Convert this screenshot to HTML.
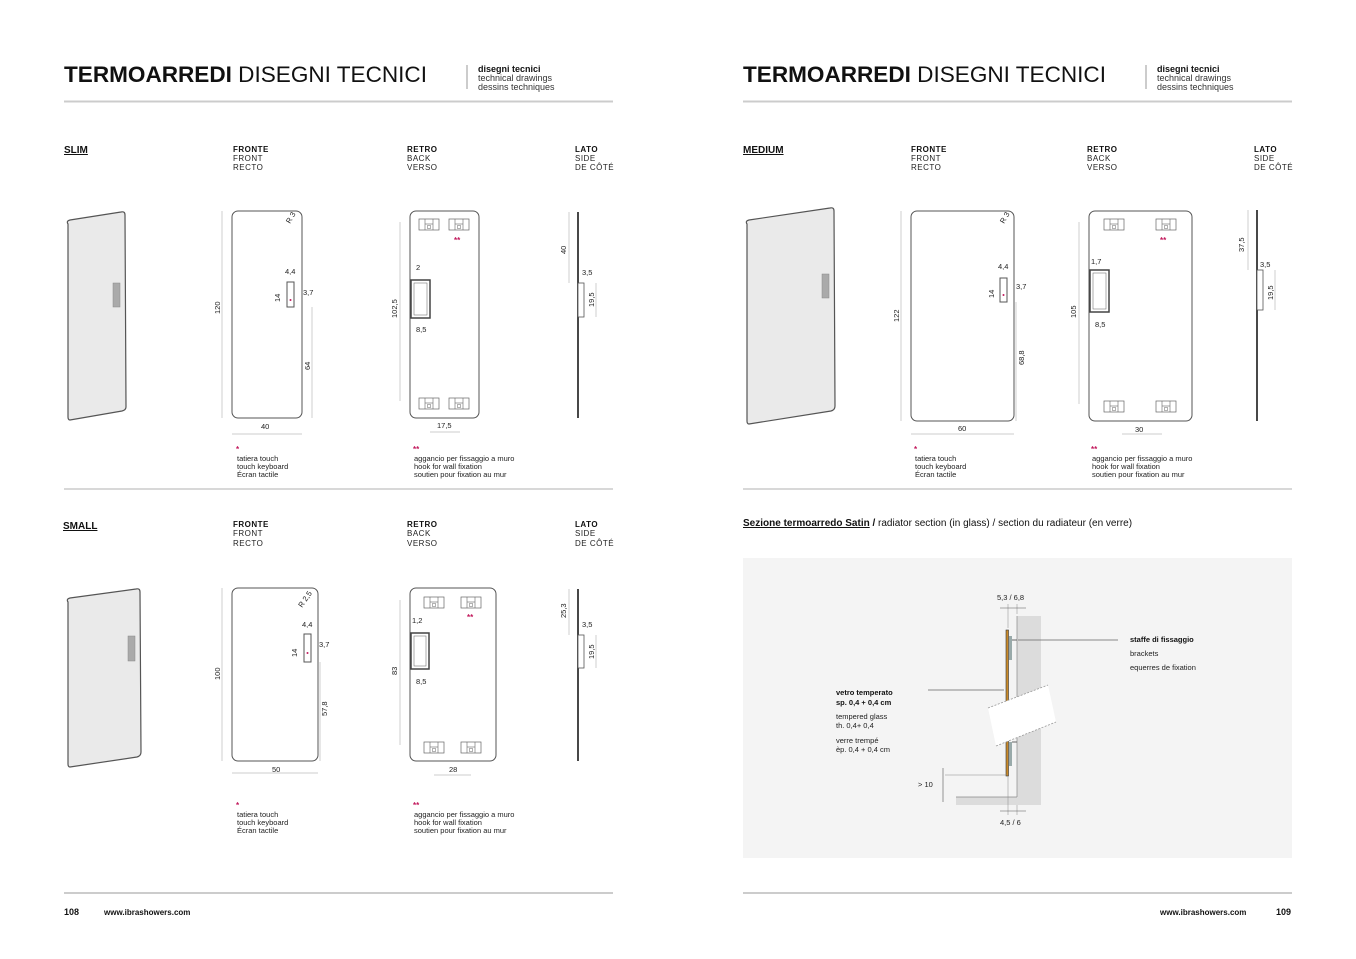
<!DOCTYPE html>
<html><head><meta charset="utf-8"><style>
html,body{margin:0;padding:0;background:#fff;}
svg{display:block;font-family:"Liberation Sans",sans-serif;}
.t{font-size:7.5px;fill:#222}
.d{font-size:7.5px;fill:#222}
.h{font-size:8px;fill:#222;letter-spacing:.5px}
.hb{font-size:8px;font-weight:bold;fill:#111;letter-spacing:.5px}
.ln{stroke:#bbb;stroke-width:.7;fill:none}
.ob{stroke:#555;stroke-width:1;fill:#fff}
.pk{fill:#c2185b;font-size:8px;font-weight:bold}
</style></head><body>
<svg width="1356" height="959" viewBox="0 0 1356 959" xmlns="http://www.w3.org/2000/svg">
<defs>
<g id="br"><rect x="0" y="0" width="20" height="11" fill="#fff" stroke="#666" stroke-width=".7"/><line x1="6" y1="0" x2="6" y2="11" stroke="#666" stroke-width=".6"/><line x1="14" y1="0" x2="14" y2="11" stroke="#666" stroke-width=".6"/><line x1="6" y1="5" x2="14" y2="5" stroke="#666" stroke-width=".6"/><rect x="8.5" y="6.5" width="3" height="3" fill="none" stroke="#666" stroke-width=".5"/></g>
</defs>

<!-- LEFT HEADER -->
<text x="64" y="82" font-size="22" fill="#111" textLength="363" lengthAdjust="spacingAndGlyphs"><tspan font-weight="bold">TERMOARREDI</tspan> DISEGNI TECNICI</text>
<line x1="467" y1="65" x2="467" y2="89" stroke="#999" stroke-width="1"/>
<text x="478" y="72" font-size="9" font-weight="bold" fill="#111">disegni tecnici</text>
<text x="478" y="81" font-size="9" fill="#333">technical drawings</text>
<text x="478" y="90" font-size="9" fill="#333">dessins techniques</text>
<line x1="64" y1="101.5" x2="613" y2="101.5" stroke="#ccc" stroke-width="2"/>

<!-- RIGHT HEADER -->
<text x="743" y="82" font-size="22" fill="#111" textLength="363" lengthAdjust="spacingAndGlyphs"><tspan font-weight="bold">TERMOARREDI</tspan> DISEGNI TECNICI</text>
<line x1="1146" y1="65" x2="1146" y2="89" stroke="#999" stroke-width="1"/>
<text x="1157" y="72" font-size="9" font-weight="bold" fill="#111">disegni tecnici</text>
<text x="1157" y="81" font-size="9" fill="#333">technical drawings</text>
<text x="1157" y="90" font-size="9" fill="#333">dessins techniques</text>
<line x1="743" y1="101.5" x2="1292" y2="101.5" stroke="#ccc" stroke-width="2"/>

<!-- SLIM -->
<text x="64" y="153" font-size="10" font-weight="bold" fill="#111" text-decoration="underline">SLIM</text>
<text x="233" y="152" class="hb">FRONTE</text><text x="233" y="161" class="h">FRONT</text><text x="233" y="170" class="h">RECTO</text>
<text x="407" y="152" class="hb">RETRO</text><text x="407" y="161" class="h">BACK</text><text x="407" y="170" class="h">VERSO</text>
<text x="575" y="152" class="hb">LATO</text><text x="575" y="161" class="h">SIDE</text><text x="575" y="170" class="h">DE CÔTÉ</text>

<path d="M68,224 Q66,221 70,220 L121,212 Q125,211 125,215 L126,407 Q126,410 122,411 L70,420 Q68,420 68,417 Z" fill="#eaeaea" stroke="#555" stroke-width="1.2"/>
<rect x="113" y="283" width="7" height="24" fill="#aaa" stroke="#888" stroke-width=".5"/>

<rect x="232" y="211" width="70" height="207" rx="6" class="ob"/>
<line x1="222" y1="211" x2="222" y2="418" class="ln"/>
<text transform="translate(220,314) rotate(-90)" class="d">120</text>
<line x1="232" y1="434" x2="302" y2="434" class="ln"/>
<text x="261" y="429" class="d">40</text>
<text transform="translate(290,224) rotate(-60)" class="d">R 3</text>
<rect x="287" y="282" width="7" height="25" class="ob" stroke-width=".8"/>
<circle cx="290.5" cy="300" r="1" fill="#c2185b"/>
<text x="285" y="274" class="d">4,4</text>
<text transform="translate(280,302) rotate(-90)" class="d">14</text>
<text x="303" y="295" class="d">3,7</text>
<line x1="312" y1="307" x2="312" y2="418" class="ln"/>
<text transform="translate(310,370) rotate(-90)" class="d">64</text>

<rect x="410" y="211" width="69" height="207" rx="6" class="ob"/>
<use href="#br" x="419" y="219"/><use href="#br" x="449" y="219"/>
<use href="#br" x="419" y="398"/><use href="#br" x="449" y="398"/>
<text x="454" y="243" class="pk">**</text>
<rect x="411" y="280" width="19" height="38" fill="#fff" stroke="#444" stroke-width="1.5"/>
<rect x="414" y="283" width="13" height="32" fill="none" stroke="#777" stroke-width=".6"/>
<text x="416" y="270" class="d">2</text>
<text x="416" y="332" class="d">8,5</text>
<line x1="400" y1="222" x2="400" y2="401" class="ln"/>
<text transform="translate(397,318) rotate(-90)" class="d">102,5</text>
<line x1="430" y1="432" x2="460" y2="432" class="ln"/>
<text x="437" y="428" class="d">17,5</text>

<line x1="578" y1="212" x2="578" y2="418" stroke="#333" stroke-width="1.8"/>
<rect x="578" y="283" width="6" height="34" fill="#fff" stroke="#555" stroke-width=".8"/>
<line x1="569" y1="212" x2="569" y2="283" class="ln"/>
<text transform="translate(566,254) rotate(-90)" class="d">40</text>
<text x="582" y="275" class="d">3,5</text>
<line x1="596" y1="283" x2="596" y2="317" class="ln"/>
<text transform="translate(594,307) rotate(-90)" class="d">19,5</text>

<text x="236" y="452" class="pk">*</text>
<text x="237" y="461" class="t">tatiera touch</text><text x="237" y="469" class="t">touch keyboard</text><text x="237" y="477" class="t">Écran tactile</text>
<text x="413" y="452" class="pk">**</text>
<text x="414" y="461" class="t">aggancio per fissaggio a muro</text><text x="414" y="469" class="t">hook for wall fixation</text><text x="414" y="477" class="t">soutien pour fixation au mur</text>
<line x1="64" y1="489" x2="613" y2="489" stroke="#ccc" stroke-width="1.5"/>

<!-- SMALL -->
<text x="63" y="529" font-size="10" font-weight="bold" fill="#111" text-decoration="underline">SMALL</text>
<text x="233" y="527" class="hb">FRONTE</text><text x="233" y="536" class="h">FRONT</text><text x="233" y="546" class="h">RECTO</text>
<text x="407" y="527" class="hb">RETRO</text><text x="407" y="536" class="h">BACK</text><text x="407" y="546" class="h">VERSO</text>
<text x="575" y="527" class="hb">LATO</text><text x="575" y="536" class="h">SIDE</text><text x="575" y="546" class="h">DE CÔTÉ</text>

<path d="M68,602 Q66,599 70,598 L136,589 Q140,588 140,592 L141,752 Q141,756 137,757 L70,767 Q68,767 68,764 Z" fill="#eaeaea" stroke="#555" stroke-width="1.2"/>
<rect x="128" y="636" width="7" height="25" fill="#aaa" stroke="#888" stroke-width=".5"/>

<rect x="232" y="588" width="86" height="173" rx="6" class="ob"/>
<line x1="222" y1="588" x2="222" y2="761" class="ln"/>
<text transform="translate(220,680) rotate(-90)" class="d">100</text>
<line x1="232" y1="773" x2="318" y2="773" class="ln"/>
<text x="272" y="772" class="d">50</text>
<text transform="translate(302,608) rotate(-55)" class="d">R 2,5</text>
<rect x="304" y="634" width="7" height="28" class="ob" stroke-width=".8"/>
<circle cx="307.5" cy="653" r="1" fill="#c2185b"/>
<text x="302" y="627" class="d">4,4</text>
<text transform="translate(297,657) rotate(-90)" class="d">14</text>
<text x="319" y="647" class="d">3,7</text>
<line x1="320" y1="662" x2="320" y2="761" class="ln"/>
<text transform="translate(327,716) rotate(-90)" class="d">57,8</text>

<rect x="410" y="588" width="86" height="173" rx="6" class="ob"/>
<use href="#br" x="424" y="597"/><use href="#br" x="461" y="597"/>
<use href="#br" x="424" y="742"/><use href="#br" x="461" y="742"/>
<text x="467" y="620" class="pk">**</text>
<rect x="411" y="633" width="18" height="36" fill="#fff" stroke="#444" stroke-width="1.5"/>
<rect x="414" y="636" width="12" height="30" fill="none" stroke="#777" stroke-width=".6"/>
<text x="412" y="623" class="d">1,2</text>
<text x="416" y="684" class="d">8,5</text>
<line x1="400" y1="600" x2="400" y2="745" class="ln"/>
<text transform="translate(397,675) rotate(-90)" class="d">83</text>
<line x1="434" y1="775" x2="471" y2="775" class="ln"/>
<text x="449" y="772" class="d">28</text>

<line x1="578" y1="589" x2="578" y2="761" stroke="#333" stroke-width="1.8"/>
<rect x="578" y="635" width="6" height="33" fill="#fff" stroke="#555" stroke-width=".8"/>
<line x1="569" y1="589" x2="569" y2="635" class="ln"/>
<text transform="translate(566,618) rotate(-90)" class="d">25,3</text>
<text x="582" y="627" class="d">3,5</text>
<line x1="596" y1="635" x2="596" y2="668" class="ln"/>
<text transform="translate(594,659) rotate(-90)" class="d">19,5</text>

<text x="236" y="808" class="pk">*</text>
<text x="237" y="817" class="t">tatiera touch</text><text x="237" y="825" class="t">touch keyboard</text><text x="237" y="833" class="t">Écran tactile</text>
<text x="413" y="808" class="pk">**</text>
<text x="414" y="817" class="t">aggancio per fissaggio a muro</text><text x="414" y="825" class="t">hook for wall fixation</text><text x="414" y="833" class="t">soutien pour fixation au mur</text>

<line x1="64" y1="893" x2="613" y2="893" stroke="#999" stroke-width="1"/>
<text x="64" y="915" font-size="9" font-weight="bold" fill="#111">108</text>
<text x="104" y="915" font-size="8" font-weight="bold" fill="#111">www.ibrashowers.com</text>

<!-- MEDIUM -->
<text x="743" y="153" font-size="10" font-weight="bold" fill="#111" text-decoration="underline">MEDIUM</text>
<text x="911" y="152" class="hb">FRONTE</text><text x="911" y="161" class="h">FRONT</text><text x="911" y="170" class="h">RECTO</text>
<text x="1087" y="152" class="hb">RETRO</text><text x="1087" y="161" class="h">BACK</text><text x="1087" y="170" class="h">VERSO</text>
<text x="1254" y="152" class="hb">LATO</text><text x="1254" y="161" class="h">SIDE</text><text x="1254" y="170" class="h">DE CÔTÉ</text>

<path d="M747,224 Q745,221 749,220 L830,208 Q834,207 834,211 L835,406 Q835,410 831,411 L749,424 Q747,424 747,421 Z" fill="#eaeaea" stroke="#555" stroke-width="1.2"/>
<rect x="822" y="274" width="7" height="24" fill="#aaa" stroke="#888" stroke-width=".5"/>

<rect x="911" y="211" width="103" height="210" rx="6" class="ob"/>
<line x1="901" y1="211" x2="901" y2="421" class="ln"/>
<text transform="translate(899,322) rotate(-90)" class="d">122</text>
<line x1="911" y1="434" x2="1014" y2="434" class="ln"/>
<text x="958" y="431" class="d">60</text>
<text transform="translate(1004,224) rotate(-60)" class="d">R 3</text>
<rect x="1000" y="278" width="7" height="24" class="ob" stroke-width=".8"/>
<circle cx="1003.5" cy="295" r="1" fill="#c2185b"/>
<text x="998" y="269" class="d">4,4</text>
<text transform="translate(994,298) rotate(-90)" class="d">14</text>
<text x="1016" y="289" class="d">3,7</text>
<line x1="1016" y1="302" x2="1016" y2="421" class="ln"/>
<text transform="translate(1024,365) rotate(-90)" class="d">68,8</text>

<rect x="1089" y="211" width="103" height="210" rx="6" class="ob"/>
<use href="#br" x="1104" y="219"/><use href="#br" x="1156" y="219"/>
<use href="#br" x="1104" y="401"/><use href="#br" x="1156" y="401"/>
<text x="1160" y="243" class="pk">**</text>
<rect x="1090" y="270" width="19" height="42" fill="#fff" stroke="#444" stroke-width="1.5"/>
<rect x="1093" y="273" width="13" height="36" fill="none" stroke="#777" stroke-width=".6"/>
<text x="1091" y="264" class="d">1,7</text>
<text x="1095" y="327" class="d">8,5</text>
<line x1="1079" y1="222" x2="1079" y2="404" class="ln"/>
<text transform="translate(1076,318) rotate(-90)" class="d">105</text>
<line x1="1122" y1="434" x2="1162" y2="434" class="ln"/>
<text x="1135" y="432" class="d">30</text>

<line x1="1257" y1="210" x2="1257" y2="421" stroke="#333" stroke-width="1.8"/>
<rect x="1257" y="270" width="6" height="40" fill="#fff" stroke="#555" stroke-width=".8"/>
<line x1="1248" y1="210" x2="1248" y2="270" class="ln"/>
<text transform="translate(1244,252) rotate(-90)" class="d">37,5</text>
<text x="1260" y="267" class="d">3,5</text>
<line x1="1275" y1="270" x2="1275" y2="310" class="ln"/>
<text transform="translate(1273,300) rotate(-90)" class="d">19,5</text>

<text x="914" y="452" class="pk">*</text>
<text x="915" y="461" class="t">tatiera touch</text><text x="915" y="469" class="t">touch keyboard</text><text x="915" y="477" class="t">Écran tactile</text>
<text x="1091" y="452" class="pk">**</text>
<text x="1092" y="461" class="t">aggancio per fissaggio a muro</text><text x="1092" y="469" class="t">hook for wall fixation</text><text x="1092" y="477" class="t">soutien pour fixation au mur</text>
<line x1="743" y1="489" x2="1292" y2="489" stroke="#ccc" stroke-width="1.5"/>

<!-- SECTION -->
<text x="743" y="526" font-size="10" fill="#111"><tspan font-weight="bold" text-decoration="underline">Sezione termoarredo Satin</tspan><tspan font-weight="bold"> /</tspan> radiator section (in glass)  / section du radiateur (en verre)</text>
<rect x="743" y="558" width="549" height="300" fill="#f4f4f4"/>
<rect x="1017" y="616" width="24" height="189" fill="#dcdcdc"/>
<rect x="956" y="797" width="61" height="8" fill="#dcdcdc"/>
<line x1="1017" y1="616" x2="1017" y2="797" stroke="#888" stroke-width=".7"/>
<line x1="956" y1="797" x2="1017" y2="797" stroke="#888" stroke-width=".7"/>
<rect x="1006" y="630" width="2.5" height="146" fill="#c98a2a" stroke="#333" stroke-width=".6"/>
<rect x="1009" y="636" width="3" height="24" fill="#99aaaa"/>
<rect x="1009" y="742" width="3" height="24" fill="#99aaaa"/>
<line x1="1012" y1="640" x2="1017" y2="640" stroke="#666"/>
<line x1="1012" y1="742" x2="1017" y2="742" stroke="#666"/>
<polygon points="988,708 1048,685 1056,722 996,746" fill="#fff"/>
<line x1="988" y1="708" x2="1048" y2="685" stroke="#999" stroke-dasharray="2,1.5" stroke-width=".8"/>
<line x1="996" y1="746" x2="1056" y2="722" stroke="#999" stroke-dasharray="2,1.5" stroke-width=".8"/>
<line x1="1008" y1="604" x2="1008" y2="628" stroke="#888" stroke-width=".5"/>
<line x1="1017" y1="604" x2="1017" y2="614" stroke="#888" stroke-width=".5"/>
<line x1="1000" y1="608" x2="1026" y2="608" stroke="#555" stroke-width=".6"/>
<text x="997" y="600" class="d">5,3 / 6,8</text>
<line x1="1018" y1="640" x2="1118" y2="640" stroke="#666" stroke-width=".7"/>
<text x="1130" y="642" font-size="7.5" font-weight="bold" fill="#111">staffe di fissaggio</text>
<text x="1130" y="656" class="t">brackets</text>
<text x="1130" y="670" class="t">equerres de fixation</text>
<line x1="928" y1="690" x2="1004" y2="690" stroke="#666" stroke-width=".7"/>
<text x="836" y="695" font-size="7.5" font-weight="bold" fill="#111">vetro temperato</text>
<text x="836" y="705" font-size="7.5" font-weight="bold" fill="#111">sp. 0,4 + 0,4 cm</text>
<text x="836" y="719" class="t">tempered glass</text>
<text x="836" y="728" class="t">th. 0,4+ 0,4</text>
<text x="836" y="743" class="t">verre trempé</text>
<text x="836" y="752" class="t">èp. 0,4 + 0,4 cm</text>
<line x1="945" y1="775" x2="1007" y2="775" stroke="#888" stroke-width=".6"/>
<line x1="943" y1="768" x2="943" y2="802" stroke="#555" stroke-width=".6"/>
<text x="918" y="787" class="d">&gt; 10</text>
<line x1="1008" y1="776" x2="1008" y2="815" stroke="#888" stroke-width=".5"/>
<line x1="1017" y1="805" x2="1017" y2="815" stroke="#888" stroke-width=".5"/>
<line x1="1000" y1="811" x2="1026" y2="811" stroke="#555" stroke-width=".6"/>
<text x="1000" y="825" class="d">4,5 / 6</text>

<line x1="743" y1="893" x2="1292" y2="893" stroke="#999" stroke-width="1"/>
<text x="1160" y="915" font-size="8" font-weight="bold" fill="#111">www.ibrashowers.com</text>
<text x="1276" y="915" font-size="9" font-weight="bold" fill="#111">109</text>
</svg>
</body></html>
